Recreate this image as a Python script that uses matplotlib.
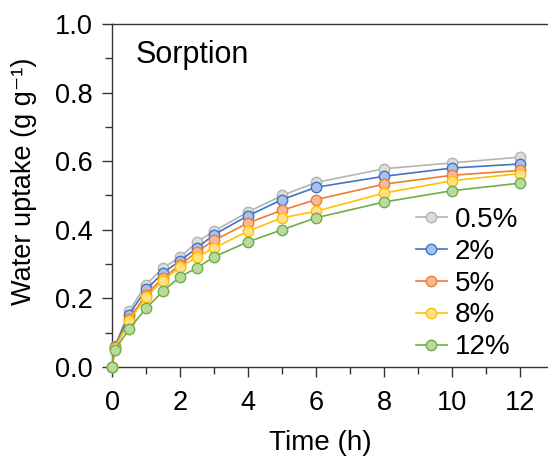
import matplotlib
matplotlib.use("Agg")
import matplotlib.pyplot as plt
from matplotlib.ticker import MultipleLocator, FormatStrFormatter

plt.rcParams['font.family'] = ['Liberation Sans', 'DejaVu Sans']

time_h = [0, 0.083, 0.5, 1, 1.5, 2, 2.5, 3, 4, 5, 6, 8, 10, 12]
labels = ["0.5%", "2%", "5%", "8%", "12%"]
uptake_05 = [0.0, 0.060, 0.163, 0.240, 0.289, 0.320, 0.365, 0.396, 0.452, 0.500, 0.538, 0.578, 0.595, 0.612]
uptake_2 = [0.0, 0.058, 0.153, 0.226, 0.274, 0.310, 0.347, 0.386, 0.441, 0.488, 0.524, 0.556, 0.580, 0.592]
uptake_5 = [0.0, 0.056, 0.139, 0.211, 0.260, 0.297, 0.336, 0.369, 0.420, 0.457, 0.488, 0.533, 0.559, 0.573]
uptake_8 = [0.0, 0.054, 0.134, 0.204, 0.252, 0.291, 0.320, 0.347, 0.396, 0.435, 0.454, 0.507, 0.543, 0.564]
uptake_12 = [0.0, 0.050, 0.110, 0.171, 0.221, 0.263, 0.289, 0.321, 0.365, 0.400, 0.435, 0.481, 0.514, 0.536]
series = [uptake_05, uptake_2, uptake_5, uptake_8, uptake_12]

line_colors = ['#b4b4b4', '#4472c4', '#ed7d31', '#ffc000', '#70ad47']
face_colors = ['#dcdcdc', '#a9c1ea', '#f6b898', '#ffe084', '#b8da9f']

fig = plt.figure(figsize=(5.48, 4.61), dpi=100)
ax = fig.add_axes([112/548, 94/461, 436/548, 343/461])

for vals, lab, lc, fc in zip(series, labels, line_colors, face_colors):
    ax.plot(time_h, vals, '-o', color=lc, lw=1.2, markersize=7.5,
            markerfacecolor=fc, markeredgecolor=lc, markeredgewidth=1.0,
            label=lab, clip_on=False, zorder=3)

ax.set_xlim(0, 436/34)
ax.set_ylim(0, 1.0)
ax.xaxis.set_major_locator(MultipleLocator(2))
ax.xaxis.set_minor_locator(MultipleLocator(1))
ax.yaxis.set_major_locator(MultipleLocator(0.2))
ax.yaxis.set_minor_locator(MultipleLocator(0.1))
ax.yaxis.set_major_formatter(FormatStrFormatter('%.1f'))

for s in ['left', 'bottom', 'top']:
    ax.spines[s].set_color('#333333')
    ax.spines[s].set_linewidth(1.0)
ax.spines['right'].set_visible(False)

ax.tick_params(which='major', direction='out', length=7.2, width=1.0, color='#333333',
               labelsize=19.5, top=False, right=False)
ax.tick_params(which='minor', direction='out', length=5, width=1.0, color='#333333',
               top=False, right=False)
ax.tick_params(axis='x', which='major', pad=9)
ax.tick_params(axis='y', which='major', pad=6.5)

ax.set_xlabel('Time (h)', fontsize=20)
ax.set_ylabel('Water uptake (g g\u207b\u00b9)', fontsize=19.5)
ax.xaxis.set_label_coords(0.477, -0.185)
ax.yaxis.set_label_coords(-0.173, 0.54)

ax.text(0.055, 0.886, 'Sorption', transform=ax.transAxes, fontsize=22,
        ha='left', va='baseline')

ax.legend(loc='upper left', bbox_to_anchor=(416/548, 1 - 207/461),
          bbox_transform=fig.transFigure, frameon=False, fontsize=20,
          handlelength=1.1, handletextpad=0.3, labelspacing=0.21,
          borderpad=0, borderaxespad=0)

fig.savefig('out.png', dpi=100)
